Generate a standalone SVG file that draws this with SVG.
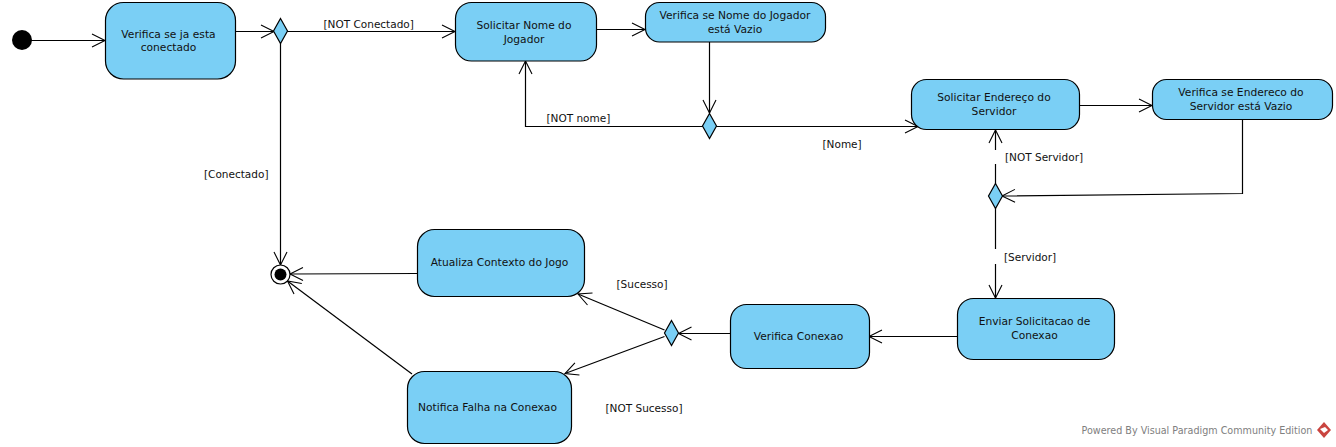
<svg xmlns="http://www.w3.org/2000/svg" width="1336" height="447" viewBox="0 0 1336 447">
<style>
.n{fill:#7acff5;stroke:#000;stroke-width:1.2}
.c{fill:none;stroke:#000;stroke-width:1.2;marker-end:url(#a)}
.p{fill:none;stroke:#000;stroke-width:1.2}
text{font-family:"DejaVu Sans",sans-serif;font-size:10.7px;fill:#111;text-anchor:middle}
.l{text-anchor:start;font-size:10.5px}
</style>
<defs>
<marker id="a" markerUnits="userSpaceOnUse" markerWidth="16" markerHeight="16" refX="14" refY="8" orient="auto" overflow="visible"><path d="M1,1.500 L14,8 L1,14.500" fill="none" stroke="#000" stroke-width="1.100"/></marker>
</defs>
<rect width="1336" height="447" fill="#fff"/>
<g id="connectors">
<path class="c" d="M22,40.500H105"/>
<path class="c" d="M236,31.500H274"/>
<path class="c" d="M287,31.500H455"/>
<path class="c" d="M280.500,43V265"/>
<path class="c" d="M597,29.500H645"/>
<path class="c" d="M709.500,42V113"/>
<path class="c" d="M703,126.500H525.500V61"/>
<path class="c" d="M716,126.500H918"/>
<path class="c" d="M1080,105.500H1152"/>
<path class="c" d="M1242.500,120V193.500L1002,196"/>
<path class="p" d="M995.500,184V164"/>
<path class="c" d="M995.500,150V130"/>
<path class="p" d="M995.500,208V249"/>
<path class="c" d="M995.500,264V298"/>
<path class="c" d="M957,336.500H869"/>
<path class="c" d="M730,333.500H678.500"/>
<path class="c" d="M664.500,330L578,294"/>
<path class="c" d="M664.500,336.500L565,373.500"/>
<path class="c" d="M417,273.500L290,274"/>
<path class="c" d="M412,374L287.500,281"/>
</g>
<g id="start"><circle cx="22" cy="40" r="10" fill="#000"/></g>
<g id="n1"><rect class="n" x="105.500" y="2.500" width="130" height="76.500" rx="18"/><text x="168.500" y="37.500">Verifica se ja esta</text><text x="168.500" y="51">conectado</text></g>
<g id="d1"><path class="n" d="M280.500,18.500L287.500,31L280.500,43.500L273.500,31Z"/></g>
<g id="n2"><rect class="n" x="455.500" y="2.500" width="141" height="58.500" rx="16"/><text x="524" y="29">Solicitar Nome do</text><text x="524" y="42.500">Jogador</text></g>
<g id="n3"><rect class="n" x="645.500" y="2.500" width="180" height="39.500" rx="14"/><text x="735" y="18.500">Verifica se Nome do Jogador</text><text x="735" y="32.500">está Vazio</text></g>
<g id="d2"><path class="n" d="M709.500,113.500L716.500,126L709.500,138.500L702.500,126Z"/></g>
<g id="n4"><rect class="n" x="911.500" y="79.500" width="168" height="50" rx="15"/><text x="994" y="100.500">Solicitar Endereço do</text><text x="994" y="114.500">Servidor</text></g>
<g id="n5"><rect class="n" x="1152.500" y="79.500" width="180" height="40" rx="14"/><text x="1241" y="96">Verifica se Endereco do</text><text x="1241" y="110">Servidor está Vazio</text></g>
<g id="d3"><path class="n" d="M995.500,183.500L1002.500,196L995.500,208.500L988.500,196Z"/></g>
<g id="n6"><rect class="n" x="957.500" y="298.500" width="157" height="61" rx="16"/><text x="1034.500" y="325">Enviar Solicitacao de</text><text x="1034.500" y="339">Conexao</text></g>
<g id="n7"><rect class="n" x="730.500" y="304.500" width="139" height="64" rx="16"/><text x="798.500" y="340">Verifica Conexao</text></g>
<g id="d4"><path class="n" d="M671.500,320.500L678.500,333L671.500,345.500L664.500,333Z"/></g>
<g id="n8"><rect class="n" x="417.500" y="229.500" width="167" height="67" rx="17"/><text x="499.500" y="266">Atualiza Contexto do Jogo</text></g>
<g id="n9"><rect class="n" x="407.500" y="371.500" width="164" height="72" rx="17"/><text x="487.500" y="411">Notifica Falha na Conexao</text></g>
<g id="end"><circle cx="280.500" cy="274.500" r="9.500" fill="#fff" stroke="#000" stroke-width="1.200"/><circle cx="280.500" cy="274.500" r="6" fill="#000"/></g>
<g id="labels">
<text class="l" x="323.500" y="28">[NOT Conectado]</text>
<text class="l" x="546.500" y="122">[NOT nome]</text>
<text class="l" x="822.500" y="148">[Nome]</text>
<text class="l" x="1005" y="160.500">[NOT Servidor]</text>
<text class="l" x="1004" y="261">[Servidor]</text>
<text class="l" x="204" y="178">[Conectado]</text>
<text class="l" x="616.500" y="288">[Sucesso]</text>
<text class="l" x="605.500" y="412">[NOT Sucesso]</text>
</g>
<g id="watermark">
<text x="1081.500" y="434" style="text-anchor:start;fill:#808080;font-size:9.600px">Powered By Visual Paradigm Community Edition</text>
<path d="M1324,422L1331,430L1324,438L1317,430Z" fill="#c9443f"/>
<path d="M1320,429L1325,427L1328,430L1324,433Z" fill="#fff"/>
</g>
</svg>
